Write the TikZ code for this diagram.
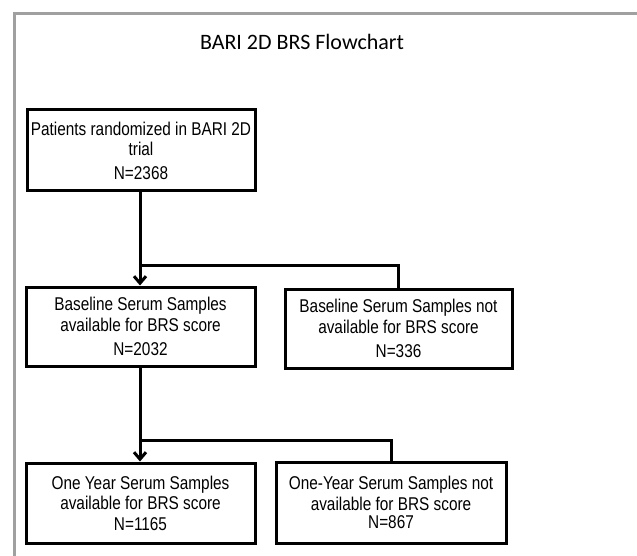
\documentclass[tikz,border=0pt]{standalone}
\usepackage{fontspec}
\setmainfont{Liberation Sans}[FakeStretch=0.83]
\newfontfamily\titlefont{Carlito}
\usetikzlibrary{arrows.meta}
\definecolor{frameGray}{HTML}{A0A0A0}

\begin{document}
\begin{tikzpicture}[x=1pt, y=-1pt,
    font=\fontsize{18.5}{20.5}\selectfont,
    flowbox/.style={draw, line width=3pt, align=center, inner sep=0pt},
    flowline/.style={line width=3pt},
    flowarrow/.style={flowline, -{Straight Barb[length=7pt, width=12pt]}}]
  \useasboundingbox (0,0) rectangle (637,556);
  \fill[white] (0,0) rectangle (637,556);

  % gray page frame, open to the right and bottom
  \draw[frameGray, line width=3pt] (14,570) -- (14,14) -- (650,14);
  \node[font=\titlefont\fontsize{22}{26}\selectfont] (title) at (302,42)
    {BARI 2D BRS Flowchart};

  % boxes
  \node[flowbox, minimum width=228, minimum height=81] (rand) at (141,150.5)
    {Patients randomized in BARI 2D\\trial\\[3pt]N=2368};
  \node[flowbox, minimum width=229, minimum height=79] (base) at (140.5,326.5)
    {Baseline Serum Samples\\available for BRS score\\[4pt]N=2032};
  \node[flowbox, minimum width=227, minimum height=79] (baseno) at (398.5,328.5)
    {Baseline Serum Samples not\\available for BRS score\\[4pt]N=336};
  \node[flowbox, minimum width=229, minimum height=80] (year) at (140.5,503)
    {One Year Serum Samples\\available for BRS score\\N=1165};
  \node[flowbox, minimum width=230, minimum height=81] (yearno) at (391,502.5)
    {One-Year Serum Samples not\\available for BRS score\\[-2pt]N=867};

  % connectors
  \coordinate (split1) at (140,265);
  \coordinate (split2) at (140,440);
  \draw[flowarrow] (rand.south -| split1) -- (base.north -| split1);
  \draw[flowline] (split1) -| (baseno.north);
  \draw[flowarrow] (base.south -| split2) -- (year.north -| split2);
  \draw[flowline] (split2) -| (yearno.north);
\end{tikzpicture}
\end{document}
